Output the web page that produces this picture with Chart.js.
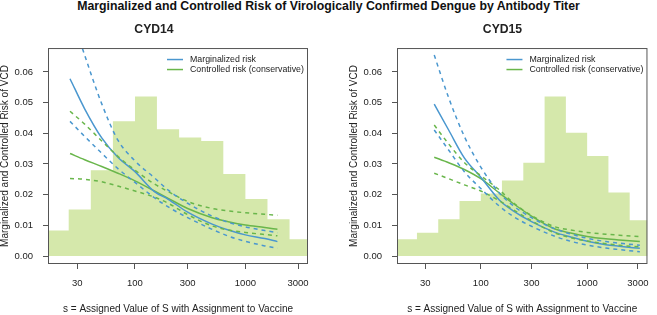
<!DOCTYPE html>
<html lang="en">
<head>
    <meta charset="UTF-8">
    <title>Marginalized and Controlled Risk of VCD by Antibody Titer</title>
    <script src="https://cdn.jsdelivr.net/npm/chart.js"></script>
    <style>
        body {
            margin: 0;
            width: 657px;
            height: 315px;
            position: relative;
            background: #fff;
            font-family: Arial, "Liberation Sans", sans-serif;
            overflow: hidden;
        }
        #mainTitle {
            position: absolute;
            top: 0;
            left: 0;
            width: 657px;
            text-align: center;
            font-weight: bold;
            font-size: 12.3px;
            line-height: 13px;
            color: #111;
        }
        canvas {
            position: absolute;
            top: 0;
        }
    </style>
</head>
<body>

<div id="mainTitle">Marginalized and Controlled Risk of Virologically Confirmed Dengue by Antibody Titer</div>
<canvas id="cyd14" width="328" height="315" style="left:0"></canvas>
<canvas id="cyd15" width="308" height="315" style="left:349px"></canvas>

<script>
    // histogram bins (edges on the titer axis) and bar heights
    const binEdges = [15.8, 25.1, 39.8, 63.1, 100, 158, 251, 398, 631, 1000, 1585, 2512, 3981];
    const hist14 = [0.0083, 0.0152, 0.028, 0.0439, 0.052, 0.0413, 0.0386, 0.0375, 0.0267, 0.0186, 0.012, 0.0055];
    const hist15 = [0.0055, 0.0076, 0.012, 0.0179, 0.0204, 0.0246, 0.0304, 0.052, 0.0402, 0.0326, 0.0207, 0.0117];

    // CYD14 curves
    const s14 = [25.8, 35, 50, 70, 100, 150, 200, 300, 500, 700, 1000, 1500, 1950];
    const marg14 = [0.0578, 0.048, 0.0385, 0.0322, 0.0275, 0.021, 0.0185, 0.0143, 0.0104, 0.0085, 0.0069, 0.0057, 0.0047];
    const margHi14 = [0.080, 0.0655, 0.0496, 0.0378, 0.031, 0.0255, 0.0215, 0.0172, 0.013, 0.011, 0.0095, 0.0083, 0.0076];
    const margLo14 = [0.0439, 0.039, 0.0335, 0.0285, 0.024, 0.019, 0.016, 0.0125, 0.0087, 0.0065, 0.0048, 0.0033, 0.0025];
    const ctrl14 = [0.0334, 0.0314, 0.0292, 0.027, 0.0245, 0.0212, 0.0188, 0.0155, 0.0125, 0.0112, 0.0101, 0.0093, 0.0087];
    const ctrlHi14 = [0.0472, 0.043, 0.0375, 0.0325, 0.028, 0.0235, 0.021, 0.0178, 0.0155, 0.0147, 0.0141, 0.0136, 0.0133];
    const ctrlLo14 = [0.0253, 0.025, 0.0242, 0.0228, 0.0212, 0.0192, 0.0172, 0.0135, 0.0098, 0.0085, 0.0077, 0.007, 0.0066];

    // CYD15 curves
    const s15 = [36.5, 50, 70, 100, 150, 200, 300, 500, 700, 1000, 1500, 2000, 3130];
    const marg15 = [0.0495, 0.041, 0.032, 0.0257, 0.0182, 0.0148, 0.0112, 0.0077, 0.0062, 0.0048, 0.0037, 0.0032, 0.0025];
    const margHi15 = [0.0655, 0.0515, 0.039, 0.029, 0.0205, 0.0165, 0.0125, 0.0088, 0.0072, 0.0058, 0.0047, 0.0042, 0.0035];
    const margLo15 = [0.0411, 0.0345, 0.0275, 0.022, 0.0162, 0.013, 0.0097, 0.0064, 0.0048, 0.0036, 0.0026, 0.0021, 0.0014];
    const ctrl15 = [0.0322, 0.0304, 0.0282, 0.0252, 0.0205, 0.0172, 0.013, 0.0088, 0.0075, 0.0064, 0.0056, 0.0052, 0.0047];
    const ctrlHi15 = [0.0427, 0.0365, 0.0305, 0.0262, 0.0215, 0.0175, 0.0132, 0.0095, 0.0085, 0.0077, 0.0071, 0.0068, 0.0063];
    const ctrlLo15 = [0.027, 0.0252, 0.0232, 0.0212, 0.018, 0.0152, 0.0115, 0.0075, 0.006, 0.0049, 0.004, 0.0035, 0.003];

    const xTicks = [30, 100, 300, 1000, 3000];
    const yTicks = [0, 0.01, 0.02, 0.03, 0.04, 0.05, 0.06];
    const legendLabels = ['Marginalized risk', 'Controlled risk (conservative)'];

    const BLUE = '#4a97cf';
    const GREEN = '#69b64b';
    const HIST = '#d5e8ab';
    const AXIS = '#555';
    const TEXT = '#222';

    function curve(xs, ys, color, dashed) {
        return {
            type: 'line',
            data: xs.map((x, i) => ({x: x, y: ys[i]})),
            borderColor: color,
            borderWidth: 1.5,
            borderDash: dashed ? [4, 4] : [],
            pointRadius: 0,
            cubicInterpolationMode: 'monotone',
            fill: false
        };
    }

    // box around plot area + legend in top right corner
    const boxAndLegend = {
        id: 'boxAndLegend',
        afterDatasetsDraw(chart) {
            const {ctx, chartArea: a} = chart;
            ctx.save();
            ctx.strokeStyle = AXIS;
            ctx.lineWidth = 1;
            ctx.strokeRect(a.left + 0.5, a.top + 0.5, a.right - a.left - 1, a.bottom - a.top - 1);

            const colors = [BLUE, GREEN];
            ctx.font = '8.8px Arial, "Liberation Sans", sans-serif';
            ctx.textBaseline = 'middle';
            ctx.fillStyle = TEXT;
            legendLabels.forEach((lab, i) => {
                const y = a.top + 11.5 + i * 10;
                ctx.strokeStyle = colors[i];
                ctx.lineWidth = 1.5;
                ctx.beginPath();
                ctx.moveTo(a.right - 141, y);
                ctx.lineTo(a.right - 125, y);
                ctx.stroke();
                ctx.fillText(lab, a.right - 118, y);
            });
            ctx.restore();
        }
    };

    function makePanel(id, title, xs, m, mHi, mLo, c, cHi, cLo, hist, padRight) {
        const histData = binEdges.map((e, i) => ({x: e, y: hist[Math.min(i, hist.length - 1)]}));
        new Chart(document.getElementById(id).getContext('2d'), {
            type: 'line',
            data: {
                datasets: [
                    curve(xs, mHi, BLUE, true),
                    curve(xs, mLo, BLUE, true),
                    curve(xs, cHi, GREEN, true),
                    curve(xs, cLo, GREEN, true),
                    curve(xs, m, BLUE, false),
                    curve(xs, c, GREEN, false),
                    {
                        type: 'line',
                        data: histData,
                        stepped: 'before',
                        fill: 'origin',
                        backgroundColor: HIST,
                        borderColor: 'rgba(0,0,0,0)',
                        borderWidth: 0,
                        pointRadius: 0
                    }
                ]
            },
            options: {
                responsive: false,
                animation: false,
                layout: {padding: {left: 0, right: padRight, top: 0, bottom: 0}},
                plugins: {
                    legend: {display: false},
                    tooltip: {enabled: false},
                    title: {
                        display: true,
                        text: title,
                        color: TEXT,
                        font: {family: 'Arial, "Liberation Sans", sans-serif', size: 12.2, weight: 'bold', lineHeight: 1.2},
                        padding: {top: 22.7, bottom: 10.7}
                    }
                },
                scales: {
                    x: {
                        type: 'logarithmic',
                        min: 16.3,
                        max: 3690,
                        afterBuildTicks: (scale) => { scale.ticks = xTicks.map(v => ({value: v})); },
                        afterFit: (scale) => { scale.height = 51; },
                        grid: {drawOnChartArea: false, drawTicks: true, tickLength: 5, color: AXIS},
                        border: {display: false},
                        ticks: {
                            color: TEXT,
                            padding: 8.5,
                            maxRotation: 0,
                            autoSkip: false,
                            font: {family: 'Arial, "Liberation Sans", sans-serif', size: 9.5},
                            callback: (v) => String(v)
                        },
                        title: {
                            display: true,
                            text: 's = Assigned Value of S with Assignment to Vaccine',
                            color: TEXT,
                            font: {family: 'Arial, "Liberation Sans", sans-serif', size: 10},
                            padding: {top: 0, bottom: 0}
                        }
                    },
                    y: {
                        min: -0.0026,
                        max: 0.0678,
                        afterBuildTicks: (scale) => { scale.ticks = yTicks.map(v => ({value: v})); },
                        afterFit: (scale) => { scale.width = 48; },
                        grid: {drawOnChartArea: false, drawTicks: true, tickLength: 5, color: AXIS},
                        border: {display: false},
                        ticks: {
                            color: TEXT,
                            padding: 10,
                            font: {family: 'Arial, "Liberation Sans", sans-serif', size: 9.5},
                            callback: (v) => Number(v).toFixed(2)
                        },
                        title: {
                            display: true,
                            text: 'Marginalized and Controlled Risk of VCD',
                            color: TEXT,
                            font: {family: 'Arial, "Liberation Sans", sans-serif', size: 10, lineHeight: 1},
                            padding: {top: 0, bottom: 0}
                        }
                    }
                }
            },
            plugins: [boxAndLegend]
        });
    }

    makePanel('cyd14', 'CYD14', s14, marg14, margHi14, margLo14, ctrl14, ctrlHi14, ctrlLo14, hist14, 20);
    makePanel('cyd15', 'CYD15', s15, marg15, margHi15, margLo15, ctrl15, ctrlHi15, ctrlLo15, hist15, 1);
</script>

</body>
</html>
